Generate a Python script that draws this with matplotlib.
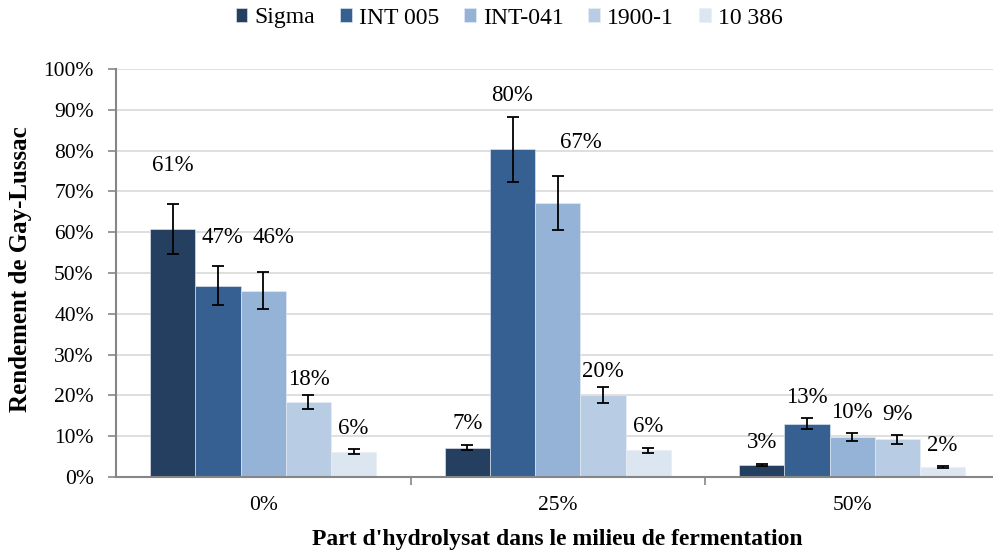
import numpy as np
import matplotlib
matplotlib.use("Agg")
import matplotlib.pyplot as plt

plt.rcParams["font.family"] = ["Liberation Serif", "DejaVu Serif"]

# Share of hydrolysate in the medium (categories) and strains (series)
categories = ["0%", "25%", "50%"]
strains = ["Sigma", "INT 005", "INT-041", "1900-1", "10 386"]

# Gay-Lussac yield (%) per strain, one value per category
sigma = [60.8, 7.2, 3.0]
int005 = [46.9, 80.3, 13.1]
int041 = [45.7, 67.1, 9.8]
s1900 = [18.4, 20.1, 9.2]
s10386 = [6.2, 6.5, 2.4]

# standard deviations
sigma_err = [6.1, 0.7, 0.3]
int005_err = [4.7, 8.0, 1.35]
int041_err = [4.5, 6.6, 1.0]
s1900_err = [1.8, 2.0, 1.1]
s10386_err = [0.6, 0.65, 0.2]

values = [sigma, int005, int041, s1900, s10386]
errors = [sigma_err, int005_err, int041_err, s1900_err, s10386_err]
colors = ["#253f60", "#366092", "#95b3d7", "#b8cce4", "#dce6f1"]

# extra nudges (points) for a few value labels
nudges = {(0, 0): (0, 13), (1, 0): (3, 6), (2, 0): (7, 10), (2, 1): (17, 9),
          (3, 0): (0, -4), (3, 1): (0, -4)}

fig = plt.figure(figsize=(9.93, 5.54), dpi=100)
ax = fig.add_axes([116 / 993, 77 / 554, 883.5 / 993, 408 / 554])

x = np.arange(len(categories))
width = 0.1535
for i, (name, vals, errs, col) in enumerate(zip(strains, values, errors, colors)):
    pos = x + (i - 2) * width
    ax.bar(pos, vals, width, color=col, label=name, edgecolor="#e8eef6", linewidth=0.4, zorder=2)
    ax.errorbar(pos, vals, yerr=errs, fmt="none", ecolor="black", elinewidth=1.3,
                capsize=4, capthick=1.3, zorder=3)
    for j, (p, v, e) in enumerate(zip(pos, vals, errs)):
        dx, dy = nudges.get((i, j), (0, 0))
        ax.annotate(f"{v:.0f}%", (p, v + e), xytext=(dx, 15 + dy), textcoords="offset points",
                    ha="center", va="center", fontsize=16.5, zorder=4)

ax.set_ylim(0, 100)
ax.set_xlim(-0.5, 2.5)
ax.set_yticks(np.arange(0, 101, 10))
ax.set_yticklabels([f"{t}%" for t in range(0, 101, 10)], fontsize=15.5)
ax.yaxis.grid(True, color="#d9d9d9", linewidth=1.2, zorder=0)
ax.set_axisbelow(True)

ax.set_xticks(x)
ax.set_xticklabels(categories, fontsize=15.5)
ax.tick_params(axis="x", length=0, pad=14)
ax.set_xticks([0.5, 1.5], minor=True)
ax.tick_params(axis="x", which="minor", length=6, color="#868686", width=1.2)
ax.tick_params(axis="y", length=6, color="#868686", width=1.2, pad=10)

for s in ["top", "right"]:
    ax.spines[s].set_visible(False)
for s in ["left", "bottom"]:
    ax.spines[s].set_color("#868686")
    ax.spines[s].set_linewidth(1.5)

ax.set_ylabel("Rendement de Gay-Lussac", fontsize=18, fontweight="bold")
ax.yaxis.set_label_coords(-0.108, 0.51)
ax.set_xlabel("Part d'hydrolysat dans le milieu de fermentation", fontsize=17,
              fontweight="bold")
ax.xaxis.set_label_coords(0.5, -0.154)
ax.xaxis.label.set_va("center")
ax.yaxis.label.set_va("center")

fig.legend(loc="center", bbox_to_anchor=(509 / 993, 1 - 18 / 554), ncol=5, frameon=False,
           fontsize=17, handlelength=0.5, handleheight=0.5, handletextpad=0.3,
           columnspacing=1.05)

fig.savefig("out.png", dpi=100)
